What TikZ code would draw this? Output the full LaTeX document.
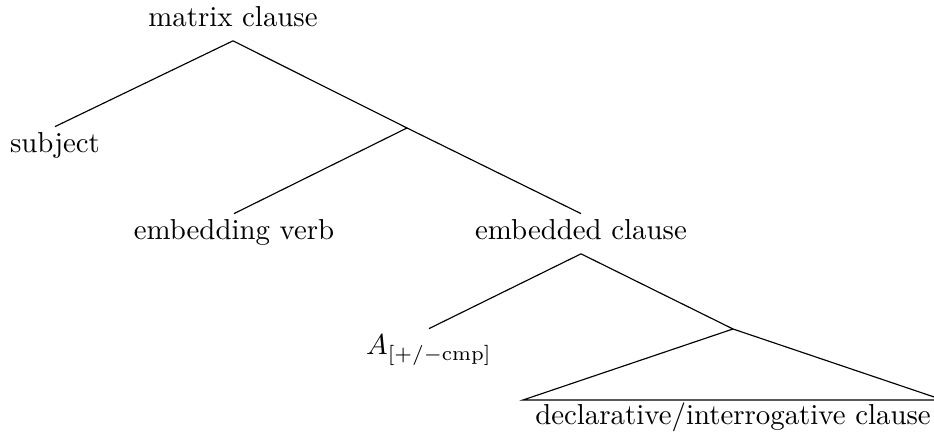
\documentclass[tikz,border=0pt]{standalone}
\begin{document}
\begin{tikzpicture}[x=0.3466pt,y=-0.3466pt,
  lbl/.style={anchor=base,inner sep=2pt,text height=6.94pt,text depth=2.6pt},
  edge/.style={line width=0.4pt}]
\clip (0,0) rectangle (934,436);
\node[lbl] (mc) at (233,27) {matrix clause};
\node[lbl] (subj) at (55,153) {subject};
\coordinate (b1) at (407,128);
\node[lbl] (ev) at (234,240) {embedding verb};
\node[lbl] (ec) at (581,240) {embedded clause};
\node[lbl] (A) at (429,355) {$A_{[+/-\mathrm{cmp}]}$};
\coordinate (b2) at (733,329);
\coordinate (tl) at (523,400);
\coordinate (tr) at (943,400);
\node[lbl] (decl) at (733,425) {declarative/interrogative clause};
\draw[edge] (mc.south) -- (subj.north);
\draw[edge] (mc.south) -- (b1);
\draw[edge] (b1) -- (ev.north);
\draw[edge] (b1) -- (ec.north);
\draw[edge] (ec.south) -- (A.north);
\draw[edge] (ec.south) -- (b2);
\draw[edge] (tl) -- (b2) -- (tr) -- cycle;
\end{tikzpicture}
\end{document}
